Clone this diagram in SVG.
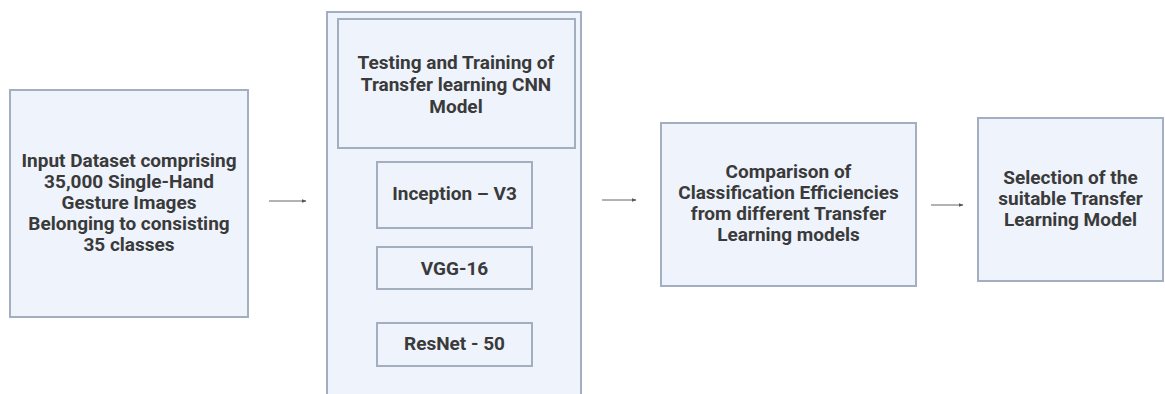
<svg xmlns="http://www.w3.org/2000/svg" width="1165" height="394" viewBox="0 0 1165 394">
  <defs>
    <marker id="head" markerWidth="5" markerHeight="4" refX="4.5" refY="2" orient="auto" markerUnits="userSpaceOnUse">
      <path d="M0,0 L5,2 L0,4 Z" fill="#555"/>
    </marker>
  </defs>
  <style>
    .box { fill: #eef3fc; stroke: #a3aec0; stroke-width: 2; }
    .lbl { font-family: Roboto, "Liberation Sans", sans-serif; font-weight: bold; font-size: 19px; fill: #3a3a3a; text-anchor: middle; }
    .edge { stroke: #666; stroke-width: 1; fill: none; marker-end: url(#head); }
  </style>
  <rect width="1165" height="394" fill="#ffffff"/>

  <g id="input">
    <rect class="box" x="10" y="90" width="238" height="227"/>
    <text class="lbl" x="129" y="167">Input Dataset comprising</text>
    <text class="lbl" x="129" y="188">35,000 Single-Hand</text>
    <text class="lbl" x="129" y="209">Gesture Images</text>
    <text class="lbl" x="129" y="230">Belonging to consisting</text>
    <text class="lbl" x="129" y="251">35 classes</text>
  </g>

  <g id="training">
    <rect class="box" x="327" y="12" width="254" height="400"/>
    <rect class="box" x="338" y="19" width="237" height="129"/>
    <text class="lbl" x="456" y="69">Testing and Training of</text>
    <text class="lbl" x="456" y="91">Transfer learning CNN</text>
    <text class="lbl" x="456" y="113">Model</text>
  </g>

  <g id="inception">
    <rect class="box" x="377" y="162" width="155" height="66"/>
    <text class="lbl" x="454.5" y="200">Inception – V3</text>
  </g>

  <g id="vgg16">
    <rect class="box" x="377" y="247" width="155" height="42"/>
    <text class="lbl" x="454.5" y="275">VGG-16</text>
  </g>

  <g id="resnet50">
    <rect class="box" x="377" y="323" width="155" height="43"/>
    <text class="lbl" x="454.5" y="350">ResNet - 50</text>
  </g>

  <g id="comparison">
    <rect class="box" x="661" y="123" width="255" height="163"/>
    <text class="lbl" x="788.5" y="178">Comparison of</text>
    <text class="lbl" x="788.5" y="199">Classification Efficiencies</text>
    <text class="lbl" x="788.5" y="220">from different Transfer</text>
    <text class="lbl" x="788.5" y="241">Learning models</text>
  </g>

  <g id="selection">
    <rect class="box" x="978" y="118" width="185" height="163"/>
    <text class="lbl" x="1070.5" y="184">Selection of the</text>
    <text class="lbl" x="1070.5" y="205">suitable Transfer</text>
    <text class="lbl" x="1070.5" y="226">Learning Model</text>
  </g>

  <g id="connectors">
    <line class="edge" x1="269" y1="201" x2="306" y2="201"/>
    <line class="edge" x1="602" y1="200" x2="636" y2="200"/>
    <line class="edge" x1="931" y1="205" x2="963" y2="205"/>
  </g>
</svg>
